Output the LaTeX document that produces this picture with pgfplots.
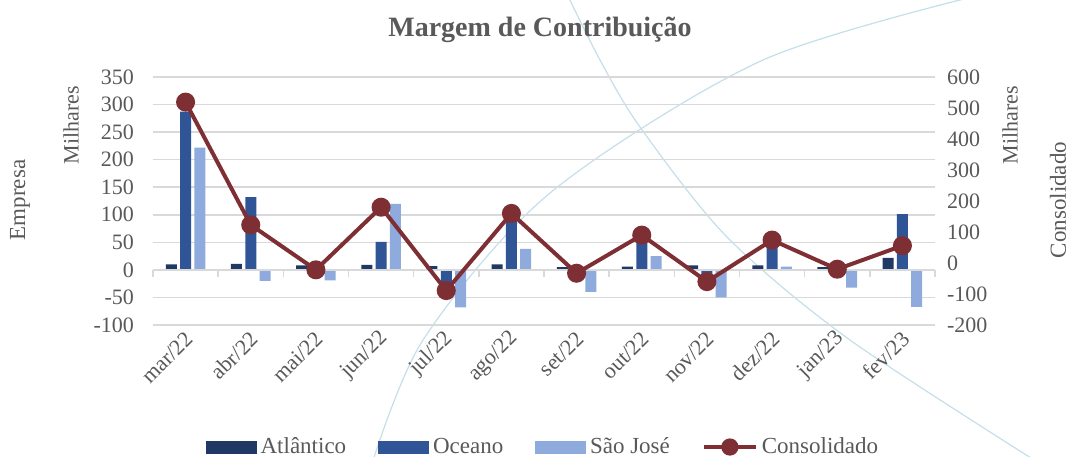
\documentclass[border=0pt]{standalone}
\usepackage{pgfplots}
\pgfplotsset{compat=1.18}
\usepackage{pgfplotstable}
\usepackage{fontspec}
\setmainfont{Liberation Serif}
\definecolor{atl}{HTML}{203864}
\definecolor{oce}{HTML}{2F5597}
\definecolor{sjo}{HTML}{8FAADC}
\definecolor{cons}{HTML}{7E2F34}
\definecolor{txt}{HTML}{595959}
\definecolor{grd}{HTML}{D9D9D9}
\definecolor{arcc}{HTML}{C5DFEA}

\pgfplotstableread{
x atl oce sjo cons
0 10 287 222 519
1 11 132 -20 123
2 8 -11 -19 -22
3 9 51 120 180
4 7 -28 -68 -89
5 10 112 38 160
6 5 2 -40 -33
7 6 59 25 90
8 8 -18 -50 -60
9 8 60 6 74
10 5 7 -32 -20
11 22 101 -67 56
}\datatable

\pgfplotsset{base/.style={scale only axis, width=391pt, height=124pt,
  xmin=-0.5, xmax=11.5, at={(0,0)}, anchor=south west,
  /pgf/number format/assume math mode=true,
  ticklabel style={font=\fontsize{11}{13}\selectfont, text=txt}}}

\begin{document}
\begin{tikzpicture}
\useasboundingbox (-76.5pt,-65.5pt) rectangle (458.5pt,162.5pt);
\draw[arcc, line width=0.6pt] plot[smooth] coordinates {(108.5pt,-72.5pt) (135pt,-7.5pt) (198.5pt,66pt) (305pt,132.5pt) (423.5pt,167.5pt)};
\draw[arcc, line width=0.6pt] plot[smooth] coordinates {(206pt,167.5pt) (223.5pt,132.5pt) (243.5pt,99pt) (287pt,44pt) (348.5pt,-7.5pt) (448.5pt,-72.5pt)};

\begin{axis}[base,
  ymin=-100, ymax=350, ytick={-100,-50,...,350},
  ymajorgrids, grid style={grd, line width=0.8pt},
  axis line style={draw=none}, major tick length=0pt,
  xtick={0,...,11},
  xticklabels={mar/22,abr/22,mai/22,jun/22,jul/22,ago/22,set/22,out/22,nov/22,dez/22,jan/23,fev/23},
  xticklabel style={rotate=45, anchor=east, yshift=-5pt, xshift=1pt},
  yticklabel style={xshift=-6pt},
  ybar=1.65pt, bar width=5.5pt]
\addplot[fill=atl, draw=none] table[x=x,y=atl]{\datatable};
\addplot[fill=oce, draw=none] table[x=x,y=oce]{\datatable};
\addplot[fill=sjo, draw=none] table[x=x,y=sjo]{\datatable};
\end{axis}

\begin{axis}[base,
  ymin=-100, ymax=350, axis x line=middle, axis y line=none,
  xtick={-0.5,0.5,...,11.5}, xticklabels={}, ytick=\empty,
  tick align=outside, major tick length=3.5pt,
  x axis line style={draw=grd, line width=0.8pt, -},
  xtick style={draw=grd, line width=0.8pt}]
\end{axis}

\begin{axis}[base,
  ymin=-200, ymax=600, ytick={-200,-100,...,600},
  axis y line*=right, axis x line=none,
  y axis line style={draw=none}, major tick length=0pt,
  yticklabel style={xshift=2.5pt},
  legend columns=4,
  legend style={at={(0.5,-0.492)}, anchor=center, draw=none, fill=none,
    font=\fontsize{11.5}{13}\selectfont, text=txt,
    /tikz/every even column/.append style={column sep=14pt}}]
\addlegendimage{legend image code/.code={\fill[atl] (0pt,-3pt) rectangle (25pt,3pt);}}
\addlegendentry{Atlântico}
\addlegendimage{legend image code/.code={\fill[oce] (0pt,-3pt) rectangle (25pt,3pt);}}
\addlegendentry{Oceano}
\addlegendimage{legend image code/.code={\fill[sjo] (0pt,-3pt) rectangle (25pt,3pt);}}
\addlegendentry{São José}
\addplot[cons, line width=2pt, mark=*, mark size=3.75pt, mark options={solid, fill=cons},
  legend image code/.code={\draw[cons, line width=2pt] (0pt,0pt) -- (26pt,0pt); \fill[cons] (13pt,0pt) circle (3.3pt);}]
  table[x=x,y=cons]{\datatable};
\addlegendentry{Consolidado}
\end{axis}

\node[font=\bfseries\fontsize{14}{16}\selectfont, text=txt] at (193.5pt,147.5pt) {Margem de Contribuição};
\node[rotate=90, font=\fontsize{11}{13}\selectfont, text=txt] at (-41pt,100pt) {Milhares};
\node[rotate=90, font=\fontsize{11.5}{13}\selectfont, text=txt] at (-66.5pt,62.5pt) {Empresa};
\node[rotate=90, font=\fontsize{11}{13}\selectfont, text=txt] at (428.5pt,100pt) {Milhares};
\node[rotate=90, font=\fontsize{11.5}{13}\selectfont, text=txt] at (452.5pt,62.5pt) {Consolidado};
\end{tikzpicture}
\end{document}
